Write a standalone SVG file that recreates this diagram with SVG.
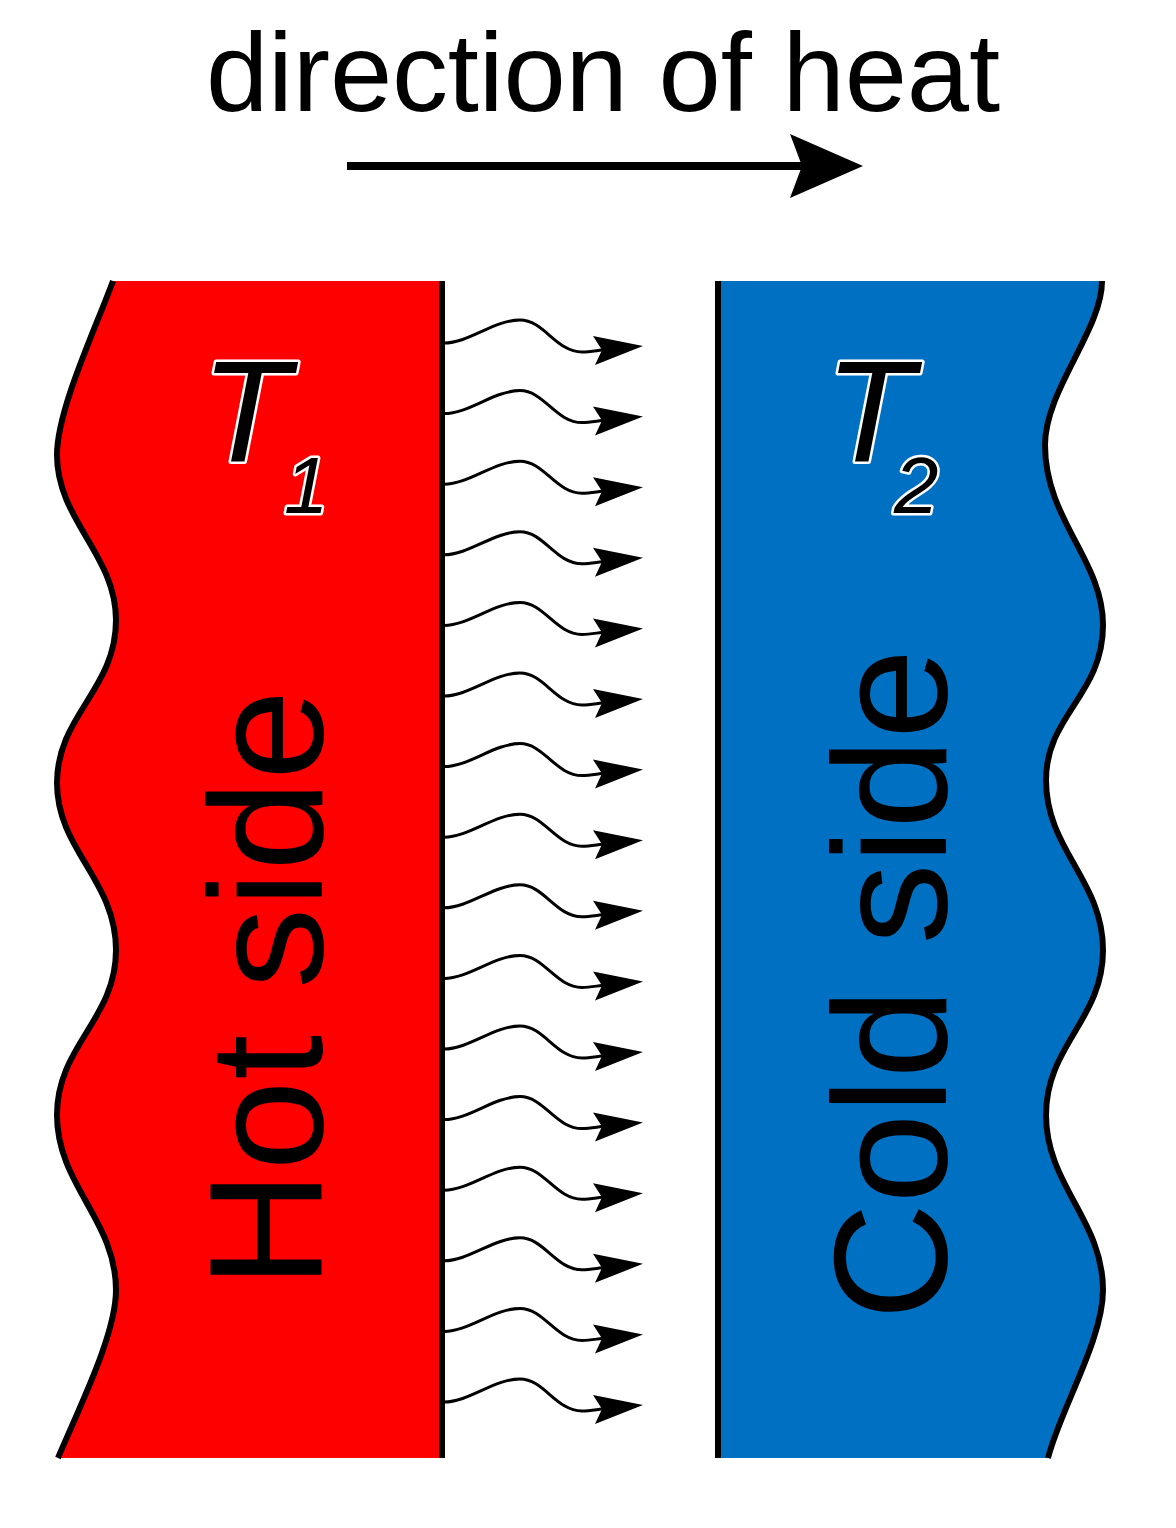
<svg xmlns="http://www.w3.org/2000/svg" width="1176" height="1528" viewBox="0 0 1176 1528">
<style>
.edge{fill:none;stroke:#000;stroke-width:6}
.wl{fill:none;stroke:#000;stroke-width:3;stroke-linecap:round}
.big{font-family:"Liberation Sans",Arial,sans-serif;fill:#000}
.tl{font-family:"Liberation Sans",Arial,sans-serif;font-style:italic;fill:#000;stroke:#fff;stroke-width:5;paint-order:stroke;stroke-linejoin:round}
</style>
<defs>
<g id="wave">
<path class="wl" d="M0,0 C25,0 50,-23 76,-23 C100,-23 112,9 138,9 C145,9 150,8 158,7"/>
<polygon points="199,3 149,-7 158,7 151,22" fill="#000"/>
</g>
</defs>
<rect width="1176" height="1528" fill="#fff"/>
<g id="title">
<text class="big" x="206" y="111" font-size="112" textLength="794" lengthAdjust="spacing">direction of heat</text>
</g>
<g id="hot">
<path d="M442,281 L113,281 C95,330 57,410 57,455 C57,520 116,555 116,620 C116,690 57,715 57,783 C57,850 116,880 116,950 C116,1020 57,1045 57,1115 C57,1185 116,1220 116,1290 C116,1335 78,1410 58,1458 L442,1458 Z" fill="#FF0000"/>
<path class="edge" d="M113,281 C95,330 57,410 57,455 C57,520 116,555 116,620 C116,690 57,715 57,783 C57,850 116,880 116,950 C116,1020 57,1045 57,1115 C57,1185 116,1220 116,1290 C116,1335 78,1410 58,1458"/>
<line class="edge" x1="442" y1="281" x2="442" y2="1458"/>
<text class="big" transform="translate(322,1288) rotate(-90)" font-size="162" textLength="598" lengthAdjust="spacing">Hot side</text>
<text class="tl" x="201" y="462" font-size="145">T</text>
<text class="tl" x="284" y="513" font-size="80">1</text>
</g>
<g id="cold">
<path d="M718,281 L1102,281 C1102,330 1045,390 1045,445 C1045,520 1103,560 1103,625 C1103,695 1046,715 1046,780 C1046,850 1103,880 1103,950 C1103,1020 1046,1045 1046,1115 C1046,1185 1103,1220 1103,1290 C1103,1340 1060,1410 1048,1458 L718,1458 Z" fill="#0071C2"/>
<path class="edge" d="M1102,281 C1102,330 1045,390 1045,445 C1045,520 1103,560 1103,625 C1103,695 1046,715 1046,780 C1046,850 1103,880 1103,950 C1103,1020 1046,1045 1046,1115 C1046,1185 1103,1220 1103,1290 C1103,1340 1060,1410 1048,1458"/>
<line class="edge" x1="718" y1="281" x2="718" y2="1458"/>
<text class="big" transform="translate(946,1320) rotate(-90)" font-size="162" textLength="671" lengthAdjust="spacing">Cold side</text>
<text class="tl" x="825" y="462" font-size="145">T</text>
<text class="tl" x="894" y="513" font-size="80">2</text>
</g>
<g id="connectors">
<line x1="347" y1="166" x2="805" y2="166" stroke="#000" stroke-width="8"/>
<polygon points="863,166 790,134 802,166 790,198" fill="#000"/>
<use href="#wave" x="444" y="343"/>
<use href="#wave" x="444" y="413.6"/>
<use href="#wave" x="444" y="484.2"/>
<use href="#wave" x="444" y="554.8"/>
<use href="#wave" x="444" y="625.4"/>
<use href="#wave" x="444" y="696"/>
<use href="#wave" x="444" y="766.6"/>
<use href="#wave" x="444" y="837.2"/>
<use href="#wave" x="444" y="907.8"/>
<use href="#wave" x="444" y="978.4"/>
<use href="#wave" x="444" y="1049"/>
<use href="#wave" x="444" y="1119.6"/>
<use href="#wave" x="444" y="1190.2"/>
<use href="#wave" x="444" y="1260.8"/>
<use href="#wave" x="444" y="1331.4"/>
<use href="#wave" x="444" y="1402"/>
</g>
</svg>
